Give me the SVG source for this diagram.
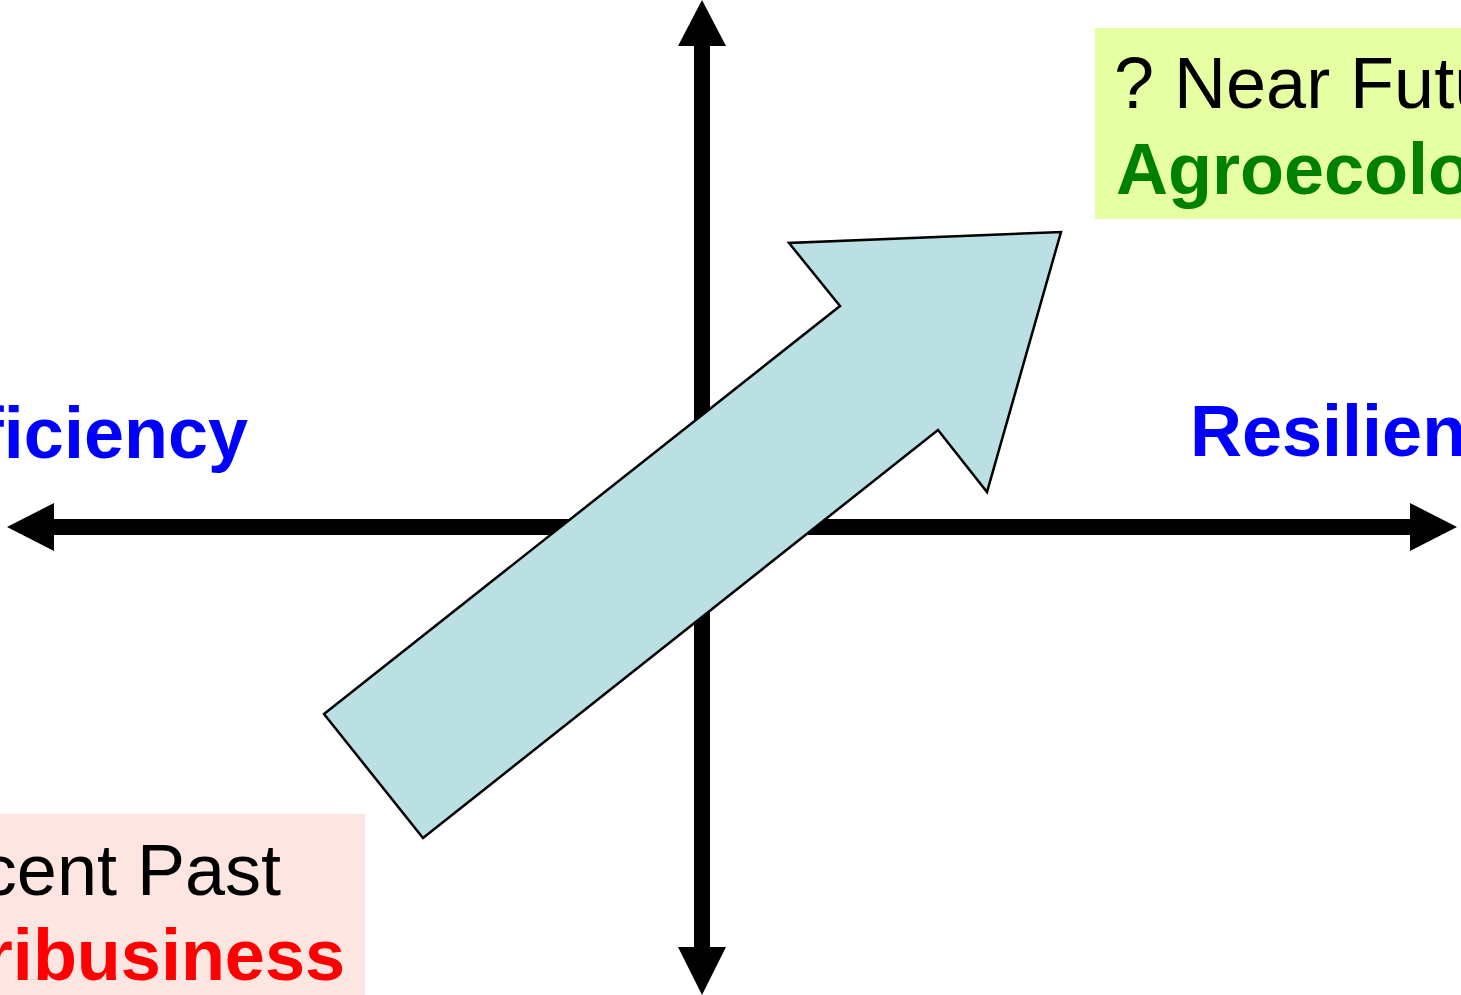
<svg xmlns="http://www.w3.org/2000/svg" width="1461" height="995" viewBox="0 0 1461 995">
<style>
.lbl{font-family:"Liberation Sans",Arial,sans-serif;font-size:72px}
.b{font-weight:bold}
.axis{fill:#000}
</style>
<rect width="1461" height="995" fill="#fff"/>
<g id="connectors">
<g id="v-axis" class="axis">
<rect x="694" y="44" width="16" height="904"/>
<polygon points="702,0 678,46 726,46"/>
<polygon points="702,995 678,947 726,947"/>
</g>
<g id="h-axis" class="axis">
<rect x="52" y="519" width="1360" height="16"/>
<polygon points="7,527 54,503 54,551"/>
<polygon points="1457,527 1410,503 1410,551"/>
</g>
</g>
<g id="node-future">
<rect x="1095" y="28" width="366" height="191" fill="#E6FFA3"/>
<text class="lbl" x="1114" y="108" fill="#000">? Near Future</text>
<text class="lbl b" x="1116" y="194" fill="#008000">Agroecology</text>
</g>
<g id="node-past">
<rect x="0" y="814" width="365" height="181" fill="#FDE6E2"/>
<text class="lbl" x="281" y="895" text-anchor="end" fill="#000">Recent Past</text>
<text class="lbl b" x="345" y="980" text-anchor="end" fill="#FF0000">Agribusiness</text>
</g>
<g id="node-efficiency">
<text class="lbl b" x="248" y="458" text-anchor="end" fill="#0000FF">Efficiency</text>
</g>
<g id="node-resilience">
<text class="lbl b" x="1190" y="456" fill="#0000FF">Resilience</text>
</g>
<g id="big-arrow">
<polygon points="324,714 840,306 789,243 1061,232 987,492 938,430 423,838" fill="#BAE0E3" stroke="#000" stroke-width="2.5" stroke-linejoin="miter"/>
</g>
</svg>
